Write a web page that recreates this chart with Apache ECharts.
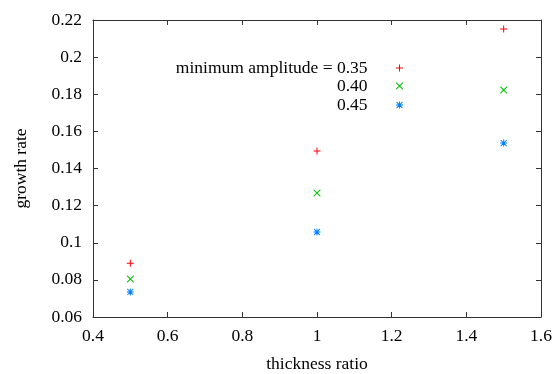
<!DOCTYPE html>
<html><head><meta charset="utf-8">
<script src="https://cdn.jsdelivr.net/npm/echarts@6/dist/echarts.min.js"></script>
<style>html,body{margin:0;padding:0;background:#fff}#c{width:554px;height:374px}</style>
</head><body><div id="c"></div>
<script>
const thickness = [0.5, 1.0, 1.5];
const amp035 = [0.089, 0.1494, 0.2152];
const amp040 = [0.0805, 0.1268, 0.1823];
const amp045 = [0.0735, 0.1058, 0.1537];
const names = ['minimum amplitude = 0.35', '0.40', '0.45'];
const colors = ['#ff0000', '#00c000', '#0080ff'];

const PLUS = 'path://M0,4.3H10V5.7H0Z M4.3,0H5.7V10H4.3Z';
const CROSS = 'path://M0,0L1,0L10,9L10,10L9,10L0,1Z M10,0L10,1L1,10L0,10L0,9L9,0Z';
const STAR = 'path://M0,4.3H10V5.7H0Z M4.3,0H5.7V10H4.3Z M0.5,0.5L1.5,0.5L9.5,8.5L9.5,9.5L8.5,9.5L0.5,1.5Z M9.5,0.5L9.5,1.5L1.5,9.5L0.5,9.5L0.5,8.5L8.5,0.5Z';
const symbols = [PLUS, CROSS, STAR];
const values = [amp035, amp040, amp045];

const font = 'Liberation Serif';
const fs = 17.5;
const chart = echarts.init(document.getElementById('c'));
const axisLine = {show: true, lineStyle: {color: '#333', width: 1}};
const tick = {show: true, inside: true, length: 5, lineStyle: {color: '#333'}};
const legendTops = [59, 77, 96];

chart.setOption({
  animation: false,
  backgroundColor: '#fff',
  grid: {left: 93, right: 13, top: 20, bottom: 57, outerBoundsMode: 'none', containLabel: false},
  xAxis: [{
    type: 'value', min: 0.4, max: 1.6, interval: 0.2,
    name: 'thickness ratio', nameLocation: 'middle', nameGap: 38,
    nameTextStyle: {fontFamily: font, fontSize: fs, color: '#000'},
    axisLine: axisLine, axisTick: tick, splitLine: {show: false},
    axisLabel: {fontFamily: font, fontSize: fs, color: '#000', margin: 10}
  }, {
    type: 'value', position: 'top', min: 0.4, max: 1.6, interval: 0.2,
    axisLine: axisLine, axisTick: tick, splitLine: {show: false}, axisLabel: {show: false}
  }],
  yAxis: [{
    type: 'value', min: 0.06, max: 0.22, interval: 0.02,
    name: 'growth rate', nameLocation: 'middle', nameGap: 63,
    nameTextStyle: {fontFamily: font, fontSize: fs, color: '#000'},
    axisLine: axisLine, axisTick: tick, splitLine: {show: false},
    axisLabel: {fontFamily: font, fontSize: fs, color: '#000', margin: 11}
  }, {
    type: 'value', position: 'right', min: 0.06, max: 0.22, interval: 0.02,
    axisLine: axisLine, axisTick: tick, splitLine: {show: false}, axisLabel: {show: false}
  }],
  legend: names.map((n, i) => ({
    data: [{name: n, icon: symbols[i], itemStyle: {color: colors[i]}}],
    selectedMode: false, align: 'right', orient: 'vertical',
    right: 151, top: legendTops[i], padding: 0,
    itemWidth: 54, itemHeight: 7,
    textStyle: {fontFamily: font, fontSize: fs, color: '#000'}
  })),
  series: names.map((n, i) => ({
    name: n, type: 'scatter', symbol: symbols[i], symbolSize: 7,
    itemStyle: {color: colors[i], opacity: 1},
    data: thickness.map((x, j) => [x, values[i][j]])
  }))
});
</script></body></html>
